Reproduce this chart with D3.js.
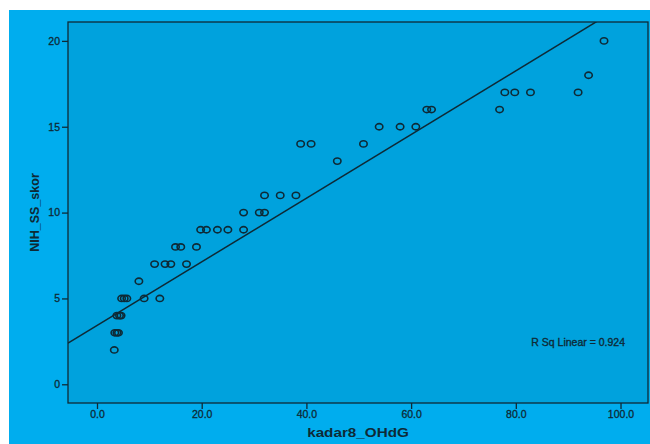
<!DOCTYPE html>
<html>
<head>
<meta charset="utf-8">
<script src="https://cdn.jsdelivr.net/npm/d3@7/dist/d3.min.js"></script>
<style>
  html, body { margin: 0; padding: 0; background: #ffffff; }
  svg { display: block; }
  text { font-family: "Liberation Sans", Arial, sans-serif; }
</style>
</head>
<body>
<svg id="chart" width="650" height="444"></svg>
<script>
// ---- data ----
const kadar8_OHdG = [
  3.3,
  3.4, 3.8, 4.1,
  3.8, 4.3, 4.6,
  4.7, 5.2, 5.7, 9.0, 12.0,
  8.0,
  11.0, 13.0, 14.1, 17.1,
  15.0, 16.0, 19.0,
  19.8, 20.9, 23.0, 25.0, 28.0,
  28.0, 31.0, 32.0,
  32.0, 35.0, 38.0,
  45.9,
  38.9, 40.9, 50.9,
  53.9, 57.9, 60.9,
  63.0, 63.9, 76.9,
  77.9, 79.8, 82.8, 91.9,
  93.9,
  96.85
];
const NIH_SS_skor = [
  2,
  3, 3, 3,
  4, 4, 4,
  5, 5, 5, 5, 5,
  6,
  7, 7, 7, 7,
  8, 8, 8,
  9, 9, 9, 9, 9,
  10, 10, 10,
  11, 11, 11,
  13,
  14, 14, 14,
  15, 15, 15,
  16, 16, 16,
  17, 17, 17, 17,
  18,
  20
];
const xTicks = [0, 20, 40, 60, 80, 100];
const yTicks = [0, 5, 10, 15, 20];
const xDomain = [-5.54, 105.25];
const yDomain = [-1.09, 21.1];
const fitIntercept = 3.42;   // fit line as drawn in the reference
const fitSlope = 0.1855;
const rSqLabel = "R Sq Linear = 0.924";
const xTitle = "kadar8_OHdG";
const yTitle = "NIH_SS_skor";

// ---- layout ----
const plot = { left: 68, right: 648, top: 22, bottom: 403 };
const outerBlue = "#00adee";
const innerBlue = "#00a2dd";
const ink = "#0e2a36";

const svg = d3.select("#chart");

svg.append("rect")
  .attr("x", 9).attr("y", 10)
  .attr("width", 641).attr("height", 434)
  .attr("fill", outerBlue);

const x = d3.scaleLinear().domain(xDomain).range([plot.left, plot.right]);
const y = d3.scaleLinear().domain(yDomain).range([plot.bottom, plot.top]);

svg.append("rect")
  .attr("x", plot.left).attr("y", plot.top)
  .attr("width", plot.right - plot.left).attr("height", plot.bottom - plot.top)
  .attr("fill", innerBlue);

svg.append("clipPath").attr("id", "clip")
  .append("rect")
  .attr("x", plot.left).attr("y", plot.top)
  .attr("width", plot.right - plot.left).attr("height", plot.bottom - plot.top);

// fit line
const xs = [xDomain[0], xDomain[1]];
svg.append("line")
  .attr("clip-path", "url(#clip)")
  .attr("x1", x(xs[0])).attr("y1", y(fitIntercept + fitSlope * xs[0]))
  .attr("x2", x(xs[1])).attr("y2", y(fitIntercept + fitSlope * xs[1]))
  .attr("stroke", ink).attr("stroke-width", 1.5);

// points
const pts = kadar8_OHdG.map((v, i) => ({ x: v, y: NIH_SS_skor[i] }));
svg.append("g").selectAll("ellipse")
  .data(pts).enter().append("ellipse")
  .attr("cx", d => x(d.x))
  .attr("cy", d => y(d.y))
  .attr("rx", 3.7).attr("ry", 3.1)
  .attr("fill", "none")
  .attr("stroke", ink)
  .attr("stroke-width", 1.6);

// frame
svg.append("rect")
  .attr("x", plot.left).attr("y", plot.top)
  .attr("width", plot.right - plot.left).attr("height", plot.bottom - plot.top)
  .attr("fill", "none").attr("stroke", ink).attr("stroke-width", 1.3);

// axes
const yAxis = svg.append("g")
  .attr("transform", `translate(${plot.left},0)`)
  .call(d3.axisLeft(y).tickValues(yTicks).tickSize(6).tickPadding(2).tickFormat(d3.format("d")));
const xAxis = svg.append("g")
  .attr("transform", `translate(0,${plot.bottom})`)
  .call(d3.axisBottom(x).tickValues(xTicks).tickSize(6).tickPadding(2).tickFormat(d3.format(".1f")));

[xAxis, yAxis].forEach(g => {
  g.select(".domain").remove();
  g.selectAll("line").attr("stroke", ink).attr("stroke-width", 1.3);
  g.selectAll("text").attr("fill", ink)
    .attr("stroke", ink).attr("stroke-width", 0.3)
    .style("font-family", "'Liberation Sans', Arial, sans-serif")
    .style("font-size", "10.5px");
});

// axis titles
svg.append("text")
  .attr("transform", `translate(${(plot.left + plot.right) / 2},437) scale(1.22,1)`)
  .attr("text-anchor", "middle")
  .attr("fill", ink)
  .style("font-size", "12.5px").style("font-weight", "bold")
  .text(xTitle);

svg.append("text")
  .attr("transform", `translate(39,${(plot.top + plot.bottom) / 2}) rotate(-90)`)
  .attr("text-anchor", "middle")
  .attr("fill", ink)
  .style("font-size", "12.5px").style("font-weight", "bold")
  .text(yTitle);

// R squared label
svg.append("text")
  .attr("x", 625).attr("y", 345.5)
  .attr("text-anchor", "end")
  .attr("fill", ink)
  .attr("stroke", ink).attr("stroke-width", 0.35)
  .style("font-size", "10.5px")
  .text(rSqLabel);
</script>
</body>
</html>
